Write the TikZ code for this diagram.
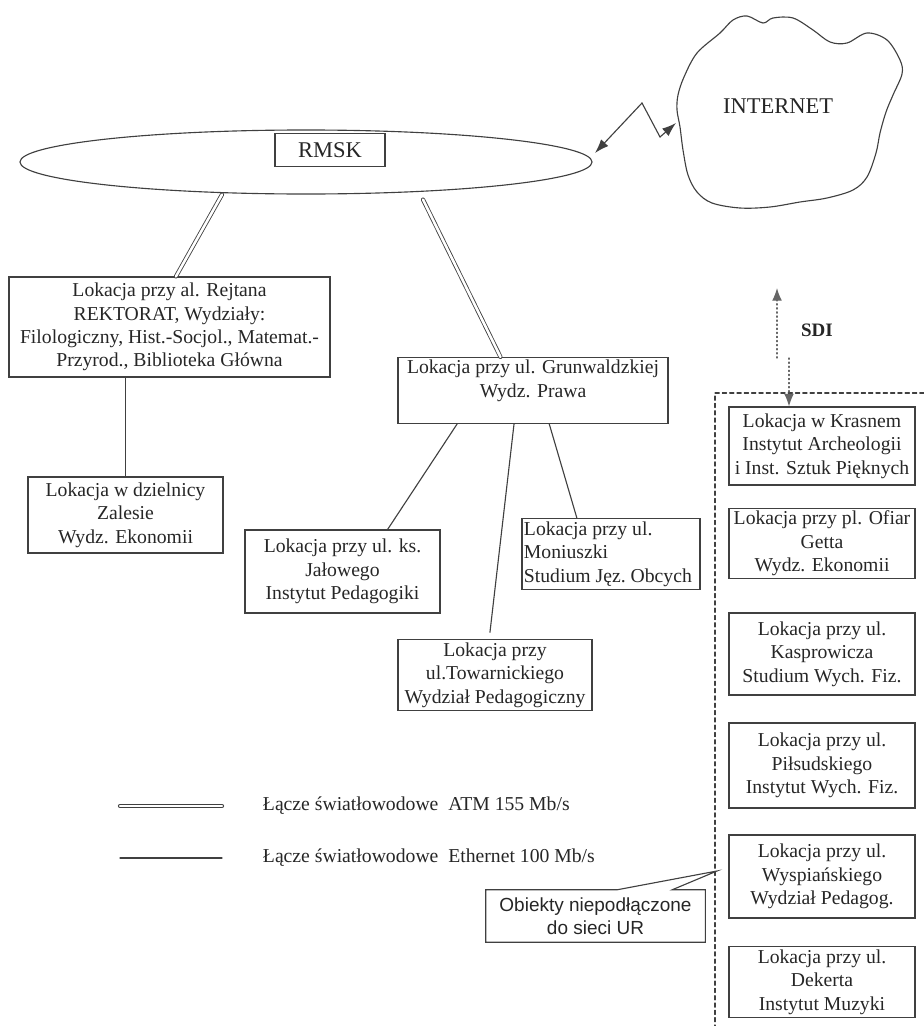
\documentclass[tikz,border=0pt]{standalone}
\usepackage{fontspec}
\setmainfont{Liberation Serif}
\setsansfont{Liberation Sans}
\usetikzlibrary{shapes.geometric,arrows.meta,calc}

\begin{document}
\begin{tikzpicture}[x=0.025cm,y=-0.025cm,line cap=round]
        % Styles
        \tikzstyle{lokacja}=[draw=black!75,line width=0.8pt,text=black!85,align=center,inner sep=2pt,font=\fontsize{14}{16.6}\selectfont]
        \tikzstyle{kolumna}=[lokacja,minimum width=4.65cm]
        \tikzstyle{atm}=[draw=black!75,double=white,double distance=1.8pt,line width=0.6pt]
        \tikzstyle{ethernet}=[draw=black!75,line width=0.8pt]
        \tikzstyle{sdi}=[draw=black!60,dotted,line width=0.9pt,-{Latex[length=9pt,width=7pt]}]
        \tikzstyle{opis}=[text=black!85,font=\fontsize{14}{16.6}\selectfont]
        \useasboundingbox (0,0) rectangle (924,1026);
        %The graphic
        %RMSK
        \node[draw=black!75,ellipse,line width=0.8pt,minimum width=14.3cm,minimum height=1.6cm,inner sep=0pt] (net) at (306,162) {};
        \node[lokacja,font=\fontsize{16}{19}\selectfont,minimum width=2.75cm,minimum height=0.825cm] (rmsk) at (330,150) {RMSK};
        %internet
        \draw[black!75,line width=0.8pt] plot[smooth cycle,tension=0.55] coordinates {(720,33) (733,20) (747,16) (763,23) (773,18) (793,18) (813,30) (830,42) (847,43) (867,33) (887,40) (900,60) (902,74) (893,95) (886,112) (880,133) (876,153) (867,177) (853,190) (827,198) (800,202) (770,207) (740,208) (712,203) (697,192) (688,175) (683,150) (680,127) (677,110) (678,95) (684,77) (697,53)};
        \node[opis,font=\fontsize{16}{19}\selectfont] (internet) at (778,106) {INTERNET};
        \coordinate (netend) at (595,153);
        \coordinate (cloudin) at (676,123);
        \draw[black!75,line width=0.8pt,{Latex[length=10pt,width=7pt]}-{Latex[length=10pt,width=7pt]}] (netend) -- (642,103) -- (660,137) -- (cloudin);
        %lokacje
        \node[lokacja,minimum width=8.025cm,minimum height=2.5cm] (rejtana) at (169.5,327) {Lokacja przy al. Rejtana\\REKTORAT, Wydziały:\\Filologiczny, Hist.-Socjol., Matemat.-\\Przyrod., Biblioteka Główna};
        \node[lokacja,minimum width=4.875cm,minimum height=1.9cm] (zalesie) at (125.5,515) {Lokacja w dzielnicy\\Zalesie\\Wydz. Ekonomii};
        \node[lokacja,minimum width=6.75cm,minimum height=1.625cm] (grun) at (533,390.5) {Lokacja przy ul. Grunwaldzkiej\\Wydz. Prawa\\\mbox{}};
        \node[lokacja,minimum width=4.875cm,minimum height=2.075cm] (jalowego) at (342.5,571.5) {Lokacja przy ul. ks.\\Jałowego\\Instytut Pedagogiki};
        \node[lokacja,align=flush left,text width=4.35cm,minimum width=4.45cm,minimum height=1.7cm,inner xsep=1pt] (moniuszki) at (611,554) {Lokacja przy ul.\\Moniuszki\\Studium Jęz.~Obcych};
        \node[lokacja,minimum width=4.85cm,minimum height=1.75cm] (towarn) at (495,675) {Lokacja przy\\ul.Towarnickiego\\Wydział Pedagogiczny};
        %polaczenia
        \draw[atm] ($(net.south)+(-84,0)$) -- ($(rejtana.north west)!0.52!(rejtana.north east)$);
        \draw[atm] ($(net.south)+(117,5)$) -- ($(grun.north west)!0.38!(grun.north east)$);
        \draw[ethernet] (zalesie.north) -- (zalesie.north |- rejtana.south);
        \draw[ethernet] ($(grun.south west)!0.22!(grun.south east)$) -- ($(jalowego.north west)!0.73!(jalowego.north east)$);
        \draw[ethernet,shorten >=5pt] ($(grun.south west)!0.43!(grun.south east)$) -- ($(towarn.north west)!0.47!(towarn.north east)$);
        \draw[ethernet] ($(grun.south west)!0.56!(grun.south east)$) -- ($(moniuszki.north west)!0.31!(moniuszki.north east)$);
        %obiekty niepodlaczone
        \draw[black!75,line width=0.8pt,dash pattern=on 3pt off 2.2pt] (924,393) -- (715,393) -- (715,1026);
        \node[kolumna,minimum height=1.95cm] (krasnem) at (822,446) {Lokacja w Krasnem\\Instytut Archeologii\\i Inst. Sztuk Pięknych};
        \node[kolumna,minimum height=1.725cm] (getta) at (822,543.5) {Lokacja przy pl. Ofiar\\Getta\\Wydz. Ekonomii};
        \node[kolumna,minimum height=2.05cm] (kasprow) at (822,654) {Lokacja przy ul.\\Kasprowicza\\Studium Wych. Fiz.};
        \node[kolumna,minimum height=2.125cm] (pilsud) at (822,765.5) {Lokacja przy ul.\\Piłsudskiego\\Instytut Wych. Fiz.};
        \node[kolumna,minimum height=2.075cm] (wyspian) at (822,876.5) {Lokacja przy ul.\\Wyspiańskiego\\Wydział Pedagog.};
        \node[kolumna,minimum height=1.75cm] (dekerta) at (822,982) {Lokacja przy ul.\\Dekerta\\Instytut Muzyki};
        %SDI
        \coordinate (sdiup) at (777,358);
        \coordinate (sdidown) at (789,358);
        \draw[sdi] (sdiup) -- ++(0,-70);
        \draw[sdi] (sdidown) -- (sdidown |- krasnem.north);
        \node[opis,font=\bfseries\fontsize{13.5}{16}\selectfont] (sdi) at (817,330) {SDI};
        %legenda
        \node[opis,anchor=west] (leg1) at (258,806) {Łącze światłowodowe\ \ ATM 155 Mb/s};
        \node[opis,anchor=west] (leg2) at (258,858) {Łącze światłowodowe\ \ Ethernet 100 Mb/s};
        \draw[atm] ($(leg1.west)+(-138,0)$) -- ($(leg1.west)+(-36,0)$);
        \draw[ethernet] ($(leg2.west)+(-138,0)$) -- ($(leg2.west)+(-36,0)$);
        %dymek
        \node[opis,align=center,font=\sffamily\fontsize{13.5}{16}\selectfont,minimum width=5.475cm,minimum height=1.3cm] (obiekty) at (595.5,916) {Obiekty niepodłączone\\do sieci UR};
        \coordinate (uwaga) at (717,871);
        \draw[ethernet,line cap=butt,line join=miter] (obiekty.north west) -- ($(obiekty.north west)!0.6!(obiekty.north east)$) -- (uwaga) -- ($(obiekty.north west)!0.85!(obiekty.north east)$) -- (obiekty.north east) -- (obiekty.south east) -- (obiekty.south west) -- cycle;
\end{tikzpicture}
\end{document}
